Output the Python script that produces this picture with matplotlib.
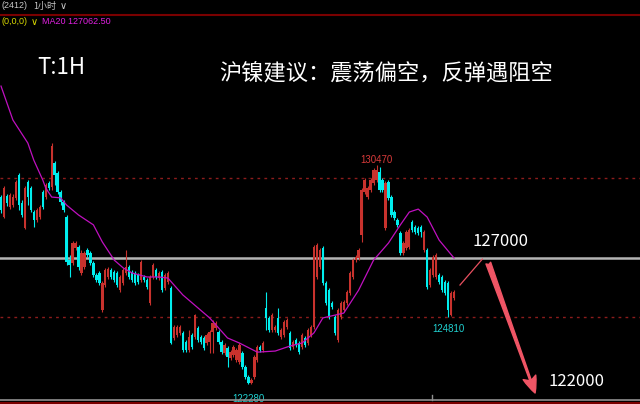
import matplotlib
matplotlib.use("Agg")
import matplotlib.pyplot as plt
import numpy as np
from matplotlib.lines import Line2D

# 1H candles, prices
opens = [
    129280, 128530, 129320, 128910, 128980, 129250, 130110, 129060, 128120, 129840,
    129620, 128720, 128420, 128530, 129470, 129280, 129810, 129660, 130550, 130180,
    129470, 129090, 128530, 126920, 126810, 127370, 127410, 126440, 126660, 127300,
    127190, 126810, 126360, 126440, 125060, 125990, 126290, 126550, 126480, 126440,
    125800, 126070, 126440, 126660, 126480, 126440, 126360, 126180, 126290, 126180,
    125320, 126290, 126550, 126250, 126480, 125880, 126100, 125880, 124010, 124120,
    124200, 124200, 123860, 123560, 124120, 124050, 124380, 124050, 124010, 123820,
    123860, 124230, 124380, 124230, 123860, 123450, 123630, 123260, 123370, 123190,
    123110, 123450, 122920, 122550, 122330, 122550, 123190, 123670, 123560, 125130,
    124760, 124310, 124310, 124760, 124050, 124120, 124420, 124200, 123670, 123930,
    123820, 123670, 124010, 123820, 124120, 124420, 126290, 126660, 127370, 126070,
    125800, 125320, 124790, 123930, 124790, 125060, 125320, 125690, 126290, 126920,
    127000, 127860, 129470, 129280, 129550, 129810, 129920, 130220, 129920, 128120,
    129840, 129280, 128720, 128420, 127940, 127190, 127370, 127410, 128350, 128160,
    128120, 128160, 127300, 127300, 125990, 126360, 126290, 126360, 126290, 126100,
    126070, 124850, 125500,
]
closes = [
    128800, 129620, 129060, 129360, 129280, 129840, 128980, 128610, 129620, 129280,
    128800, 128420, 128800, 128910, 128910, 129730, 129620, 131190, 130110, 129470,
    129090, 128800, 126850, 126740, 127560, 127560, 126660, 127190, 127190, 127110,
    126810, 126360, 126180, 126070, 126070, 126550, 126590, 126290, 126180, 125990,
    126290, 126550, 126660, 126290, 126180, 126070, 126100, 126850, 126180, 125920,
    126290, 126740, 126290, 126440, 125800, 126360, 126440, 123820, 124420, 124420,
    124420, 123560, 123560, 124050, 123670, 124870, 123930, 123860, 123630, 124120,
    124230, 124570, 124570, 123860, 123480, 123750, 123300, 123480, 123670, 123560,
    123750, 122920, 122550, 122330, 122440, 123300, 123670, 123560, 123820, 124760,
    124310, 124870, 124420, 124200, 124310, 124610, 124680, 123630, 123860, 123750,
    123480, 124120, 123750, 124310, 124420, 127410, 127490, 127300, 126070, 125320,
    124790, 125170, 124200, 125060, 125320, 125360, 125730, 126440, 126920, 127040,
    127300, 129550, 129920, 129620, 129920, 130290, 130290, 129550, 129550, 129810,
    129250, 128610, 128500, 128240, 127190, 127560, 127970, 128050, 128050, 127970,
    127940, 127970, 127970, 125920, 126550, 127040, 127110, 126100, 125800, 125690,
    125060, 125690, 125730,
]
highs = [
    129360, 129690, 129400, 129430, 129400, 129920, 130180, 129170, 129690, 129920,
    129690, 128800, 128870, 128980, 129550, 129810, 129880, 131300, 130630, 130260,
    129550, 129170, 128610, 127110, 127640, 127640, 127490, 127300, 127260, 127370,
    127260, 126890, 126440, 126520, 126140, 126630, 126660, 126630, 126550, 126520,
    126360, 126630, 127300, 126740, 126550, 126520, 126440, 126920, 126360, 126250,
    126360, 126810, 126630, 126520, 126550, 126440, 126520, 125950, 124490, 124490,
    124490, 124270, 123930, 124310, 124200, 124910, 124460, 124120, 124080, 124200,
    124310, 124680, 124650, 124310, 123930, 123820, 123710, 123560, 123750, 123630,
    123820, 123520, 123000, 122620, 122510, 123370, 123750, 123750, 123900, 125730,
    124830, 124940, 124490, 125130, 124380, 124680, 124760, 124270, 123930, 124010,
    123900, 124200, 124080, 124380, 124490, 127490, 127560, 127370, 127450, 126140,
    125880, 125390, 124870, 125130, 125390, 125430, 125800, 126520, 127000, 127110,
    127370, 129620, 129990, 129690, 129990, 130370, 130470, 130400, 129990, 129880,
    129920, 129360, 128800, 128500, 128010, 127640, 128050, 128120, 128420, 128240,
    128200, 128240, 128050, 127370, 126630, 127110, 127190, 126440, 126360, 126180,
    126140, 125770, 125800,
]
lows = [
    128680, 128500, 128940, 128830, 128910, 129170, 128800, 128530, 128090, 128980,
    128720, 128160, 128350, 128460, 128830, 129210, 129550, 129550, 129730, 129400,
    128980, 128720, 126740, 126290, 126740, 127300, 126550, 126360, 126590, 127040,
    126740, 126290, 126100, 125990, 124980, 125920, 126220, 126220, 126100, 125920,
    125730, 125990, 126360, 126220, 126100, 125990, 126030, 126100, 126100, 125840,
    125240, 126220, 126220, 126180, 125730, 125800, 126030, 123780, 123930, 124050,
    124120, 123480, 123480, 123480, 123600, 123970, 123860, 123780, 123560, 123750,
    123450, 123450, 124310, 123780, 123410, 123370, 122920, 123190, 123300, 123110,
    123040, 122850, 122470, 122280, 122300, 122470, 123110, 123480, 123480, 124310,
    124230, 124230, 124230, 124120, 123970, 124050, 124340, 123560, 123600, 123670,
    123410, 123600, 123670, 123750, 124050, 124340, 126220, 126590, 125990, 125240,
    124720, 125090, 124120, 123860, 124720, 124980, 125240, 125620, 126220, 126850,
    126920, 127600, 129400, 129210, 129470, 129730, 129840, 129470, 129470, 128050,
    129170, 128530, 128420, 128160, 127110, 127110, 127300, 127340, 127970, 127900,
    127860, 127790, 127220, 125840, 125920, 126290, 126220, 126030, 125730, 125620,
    124810, 124830, 125430,
]

# MA20 as drawn (candle index, price)
ma_idx = [0, 4, 9, 11, 14, 15, 17, 20, 22, 26, 31, 34, 38, 41, 44, 49, 53, 56, 61,
          70, 76, 80, 86, 92, 97, 101, 105, 108, 115, 120, 125, 130, 134, 137, 140,
          143, 147, 152]
ma_vals = [133430, 132160, 131300, 130660, 129920, 129620, 129280, 129250, 128980,
           128610, 128240, 127600, 126920, 126630, 126440, 126290, 126290, 126250,
           125620, 124760, 124010, 123820, 123480, 123520, 123710, 123820, 124200,
           124760, 124940, 125800, 126920, 127560, 128240, 128720, 128830, 128530,
           127670, 127000]

support = 127000
dash_levels = [129990, 124810]
target = 122000
ma_text = "MA20 127062.50"
title = "沪镍建议：震荡偏空，反弹遇阻空"

cjk = ['Noto Sans CJK SC', 'DejaVu Sans']

fig = plt.figure(figsize=(6.4, 4.04), dpi=100, facecolor='black')
ax = fig.add_axes([0, 0, 1, 1])
ax.set_facecolor('black')
ax.set_xlim(-0.34, 214.4)
ax.set_ylim(121540, 136650)
ax.set_axis_off()

o = np.array(opens)
c = np.array(closes)
h = np.array(highs)
l = np.array(lows)
x = np.arange(len(o))
up = c > o
col = np.where(up, '#c8322d', '#00eeee')

ax.axhline(support, color='#b4b4b4', lw=1.8, zorder=1)
for lv in dash_levels:
    ax.axhline(lv, color='#8c1c1c', lw=1, dashes=(2, 3), zorder=1)

ax.vlines(x, l, h, colors=col, lw=0.8, zorder=2)
ax.bar(x, np.maximum(np.abs(c - o), 40), bottom=np.minimum(o, c), width=0.78,
       color=col, linewidth=0, zorder=3)

ax.plot(ma_idx, ma_vals, color='#c010c0', lw=0.9, zorder=4)

# extreme labels
ax.text(126, 130665, '130470', color='#d83a3a', fontsize=7, ha='center', va='center',
        family='Liberation Sans')
ax.text(150, 124345, '124810', color='#20d0d0', fontsize=7, ha='center', va='center',
        family='Liberation Sans')
ax.text(83, 121727, '122280', color='#20d0d0', fontsize=7, ha='center', va='center',
        family='Liberation Sans')

# forecast arrows
ax.plot([154, 161.5], [125990, 126960], color='#e85060', lw=0.9, zorder=5)
ax.annotate('', xy=(179.2, 121950), xytext=(163.5, 126810),
            arrowprops=dict(arrowstyle='fancy,head_length=1.0,head_width=0.8,tail_width=0.3',
                            color='#f05565', shrinkA=0, shrinkB=0, mutation_scale=12))

def fy(py):
    return 1 - py / 404

fig.text(61 / 640, fy(68), 'T:1H', color='white', fontsize=16, ha='center', va='center', family=cjk)
fig.text(386 / 640, fy(73), title, color='white', fontsize=16, ha='center', va='center', family=cjk)
fig.text(500 / 640, fy(241), str(support), color='white', fontsize=12, ha='center', va='center', family=cjk)
fig.text(577 / 640, fy(382), str(target), color='white', fontsize=12, ha='center', va='center', family=cjk)

# header
fig.text(1 / 640, fy(6), '(2412)', color='#c8c8c8', fontsize=6.5, va='center', family='Liberation Sans')
fig.text(33 / 640, fy(6), '1小时', color='#c8c8c8', fontsize=6.5, va='center', family=cjk)
fig.text(60 / 640, fy(6), '∨', color='#c8c8c8', fontsize=7, va='center')
fig.text(1 / 640, fy(22), '(0,0,0)', color='#d8d800', fontsize=6.5, va='center', family='Liberation Sans')
fig.text(31 / 640, fy(22), '∨', color='#d8d800', fontsize=7, va='center')
fig.text(42 / 640, fy(22), ma_text, color='#e020e0', fontsize=6.5, va='center', family='Liberation Sans')

fig.add_artist(Line2D([0, 1], [fy(15), fy(15)], color='#7a0000', lw=1.5, transform=fig.transFigure))
fig.add_artist(Line2D([0, 1], [fy(399.5), fy(399.5)], color='#909090', lw=1.2, transform=fig.transFigure))
fig.add_artist(Line2D([0, 1], [fy(403), fy(403)], color='#7a0000', lw=1.5, transform=fig.transFigure))
fig.add_artist(Line2D([432 / 640, 432 / 640], [fy(395), fy(399.5)], color='#909090', lw=1, transform=fig.transFigure))

fig.savefig('out.png', dpi=100, facecolor='black')
